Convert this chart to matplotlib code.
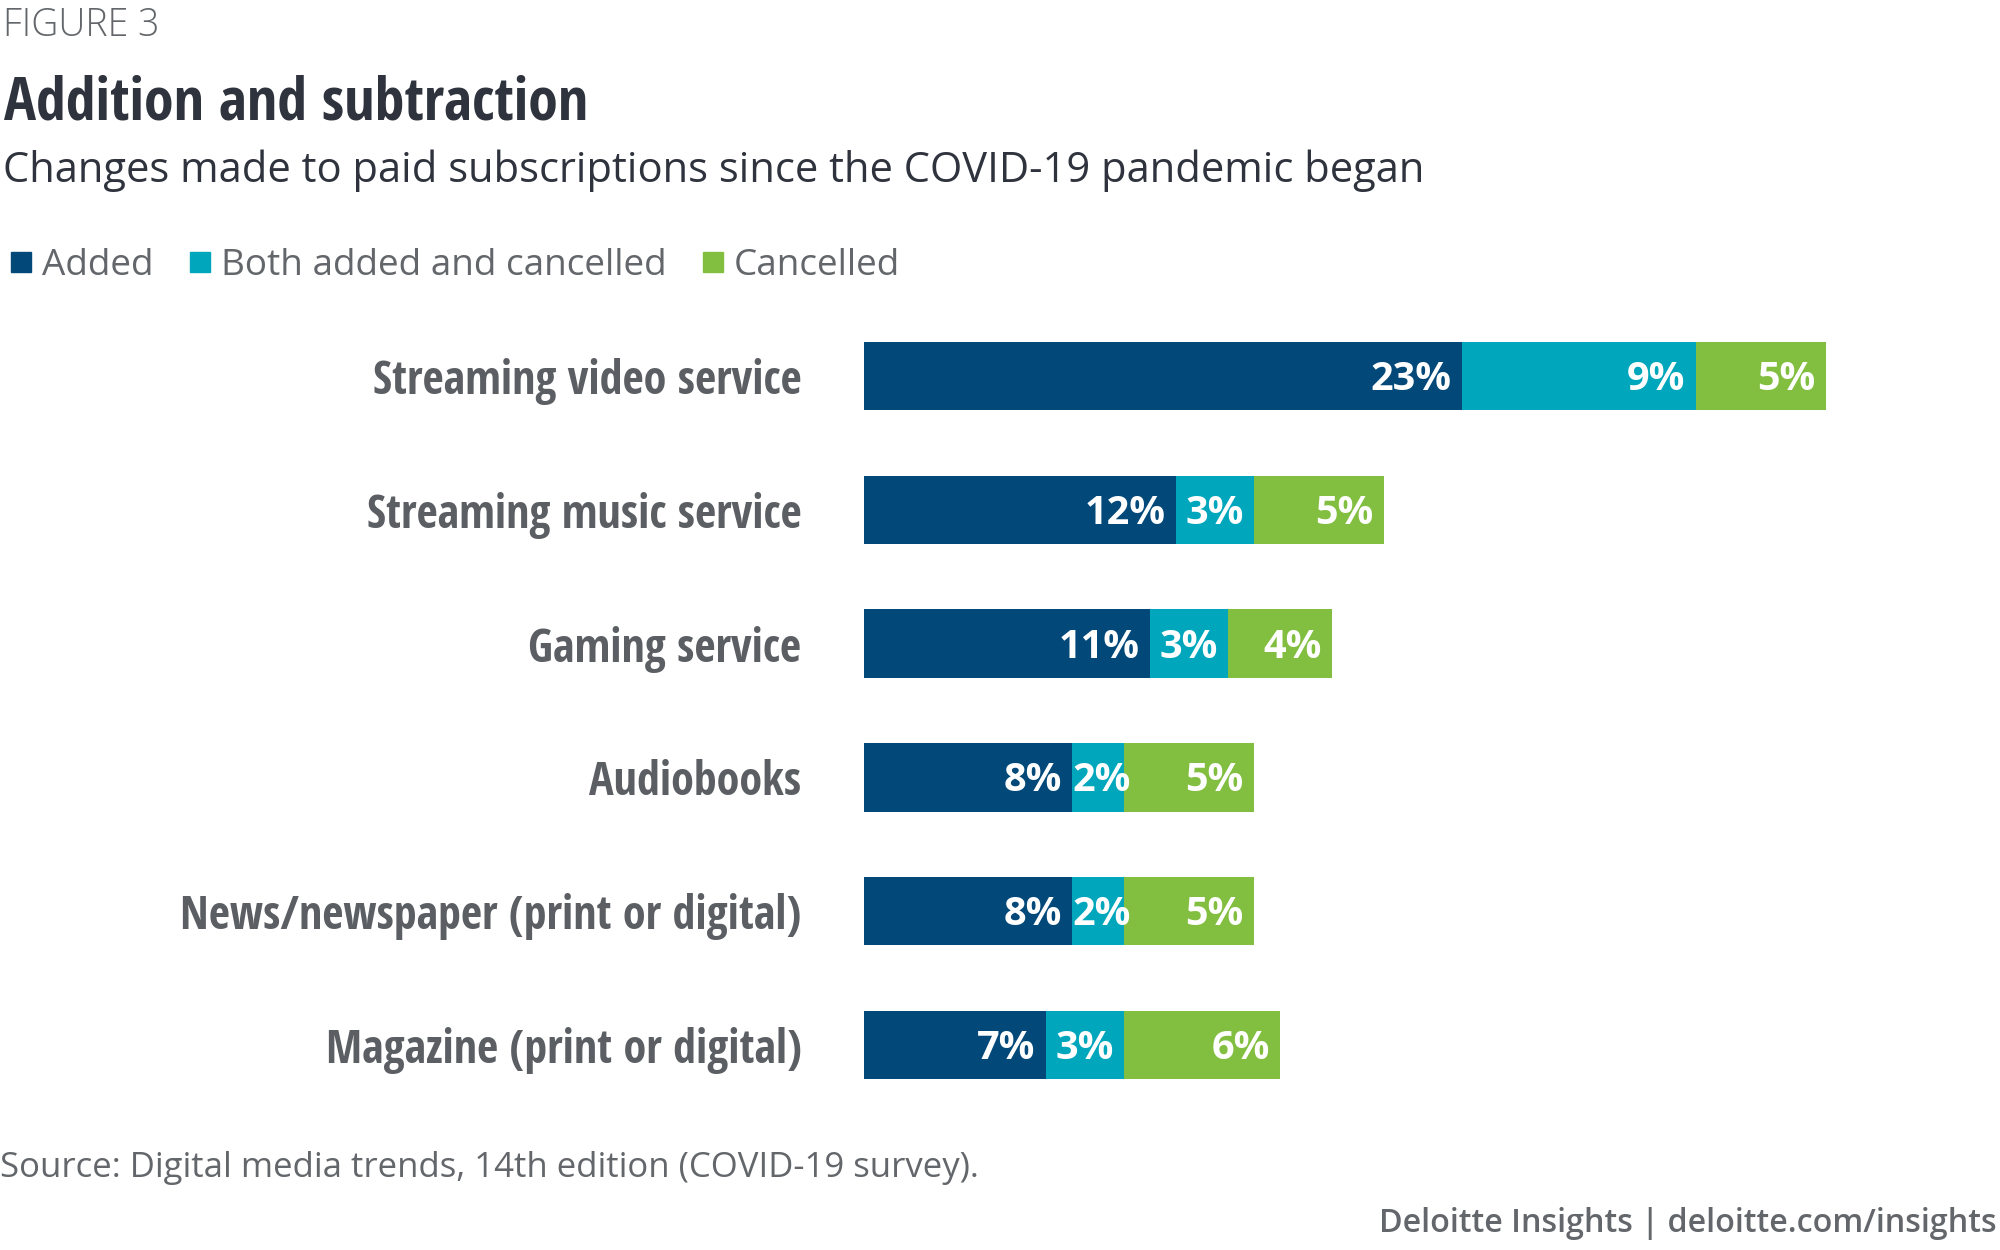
import matplotlib
matplotlib.use("Agg")
import matplotlib.pyplot as plt
from matplotlib.lines import Line2D

# Data
categories = ["Streaming video service", "Streaming music service", "Gaming service",
              "Audiobooks", "News/newspaper (print or digital)", "Magazine (print or digital)"]
added = [23, 12, 11, 8, 8, 7]
both = [9, 3, 3, 2, 2, 3]
cancelled = [5, 5, 4, 5, 5, 6]
series_names = ["Added", "Both added and cancelled", "Cancelled"]
series_colors = ["#02497A", "#00A7BC", "#82BF40"]

cond = ["Open Sans Condensed", "DejaVu Sans"]
body = ["Open Sans", "DejaVu Sans"]

title_color = "#2F333D"
label_gray = "#5B5E63"
light_gray = "#63666A"

fig = plt.figure(figsize=(20, 12.5), dpi=100)
ax = fig.add_axes([0.432, 0.1104, 0.568, 0.6424])

rows = list(range(len(categories)))
left = [0] * len(categories)
for vals, name, col in zip([added, both, cancelled], series_names, series_colors):
    ax.barh(rows, vals, left=left, height=0.51, color=col, label=name)
    for i, v in enumerate(vals):
        # narrow segments: label starts at the segment's left edge
        if v >= 3:
            xy, off, ha = (left[i] + v, i), (-7.5, -2.5), "right"
        else:
            xy, off, ha = (left[i], i), (0.5, -2.5), "left"
        ax.annotate(f"{v}%", xy=xy, xytext=off, textcoords="offset points",
                    ha=ha, va="center", color="white", fontsize=28.5,
                    fontweight="bold", family=body)
    left = [a + b for a, b in zip(left, vals)]

ax.set_xlim(0, 43.7)
ax.set_ylim(len(categories) - 0.5, -0.5)
ax.set_yticks(rows)
ax.set_yticklabels(categories, fontsize=33.2, fontweight="bold", family=cond, color=label_gray)
ax.tick_params(axis="y", length=0, pad=45)
ax.set_xticks([])
for s in ax.spines.values():
    s.set_visible(False)

# Header texts
fig.text(0.0015, 1 - 26 / 1250, "FIGURE 3", fontsize=27, family=body, fontweight="light",
         color=light_gray, va="center", ha="left")
fig.text(0.002, 1 - 104 / 1250, "Addition and subtraction", fontsize=43.2, fontweight="bold",
         family=cond, color=title_color, va="center", ha="left")
fig.text(0.0015, 1 - 171 / 1250, "Changes made to paid subscriptions since the COVID-19 pandemic began",
         fontsize=30, family=body, color=title_color, va="center", ha="left")

handles = [Line2D([], [], marker="s", linestyle="none", markersize=14, color=c) for c in series_colors]
fig.legend(handles, series_names, loc="center left", bbox_to_anchor=(0.005, 1 - 266 / 1250),
           ncol=3, frameon=False, handlelength=0.6, handletextpad=0.27, columnspacing=0.95,
           borderpad=0, borderaxespad=0, prop={"family": body, "size": 26.6}, labelcolor=light_gray)

fig.text(0.0, 1 - 1168 / 1250, "Source: Digital media trends, 14th edition (COVID-19 survey).",
         fontsize=25, family=body, color=light_gray, va="center", ha="left")
fig.text(0.9985, 1 - 1224 / 1250, "Deloitte Insights | deloitte.com/insights",
         fontsize=23.2, family=body, fontweight="semibold", color=light_gray, va="center", ha="right")

fig.savefig("out.png", dpi=100)
